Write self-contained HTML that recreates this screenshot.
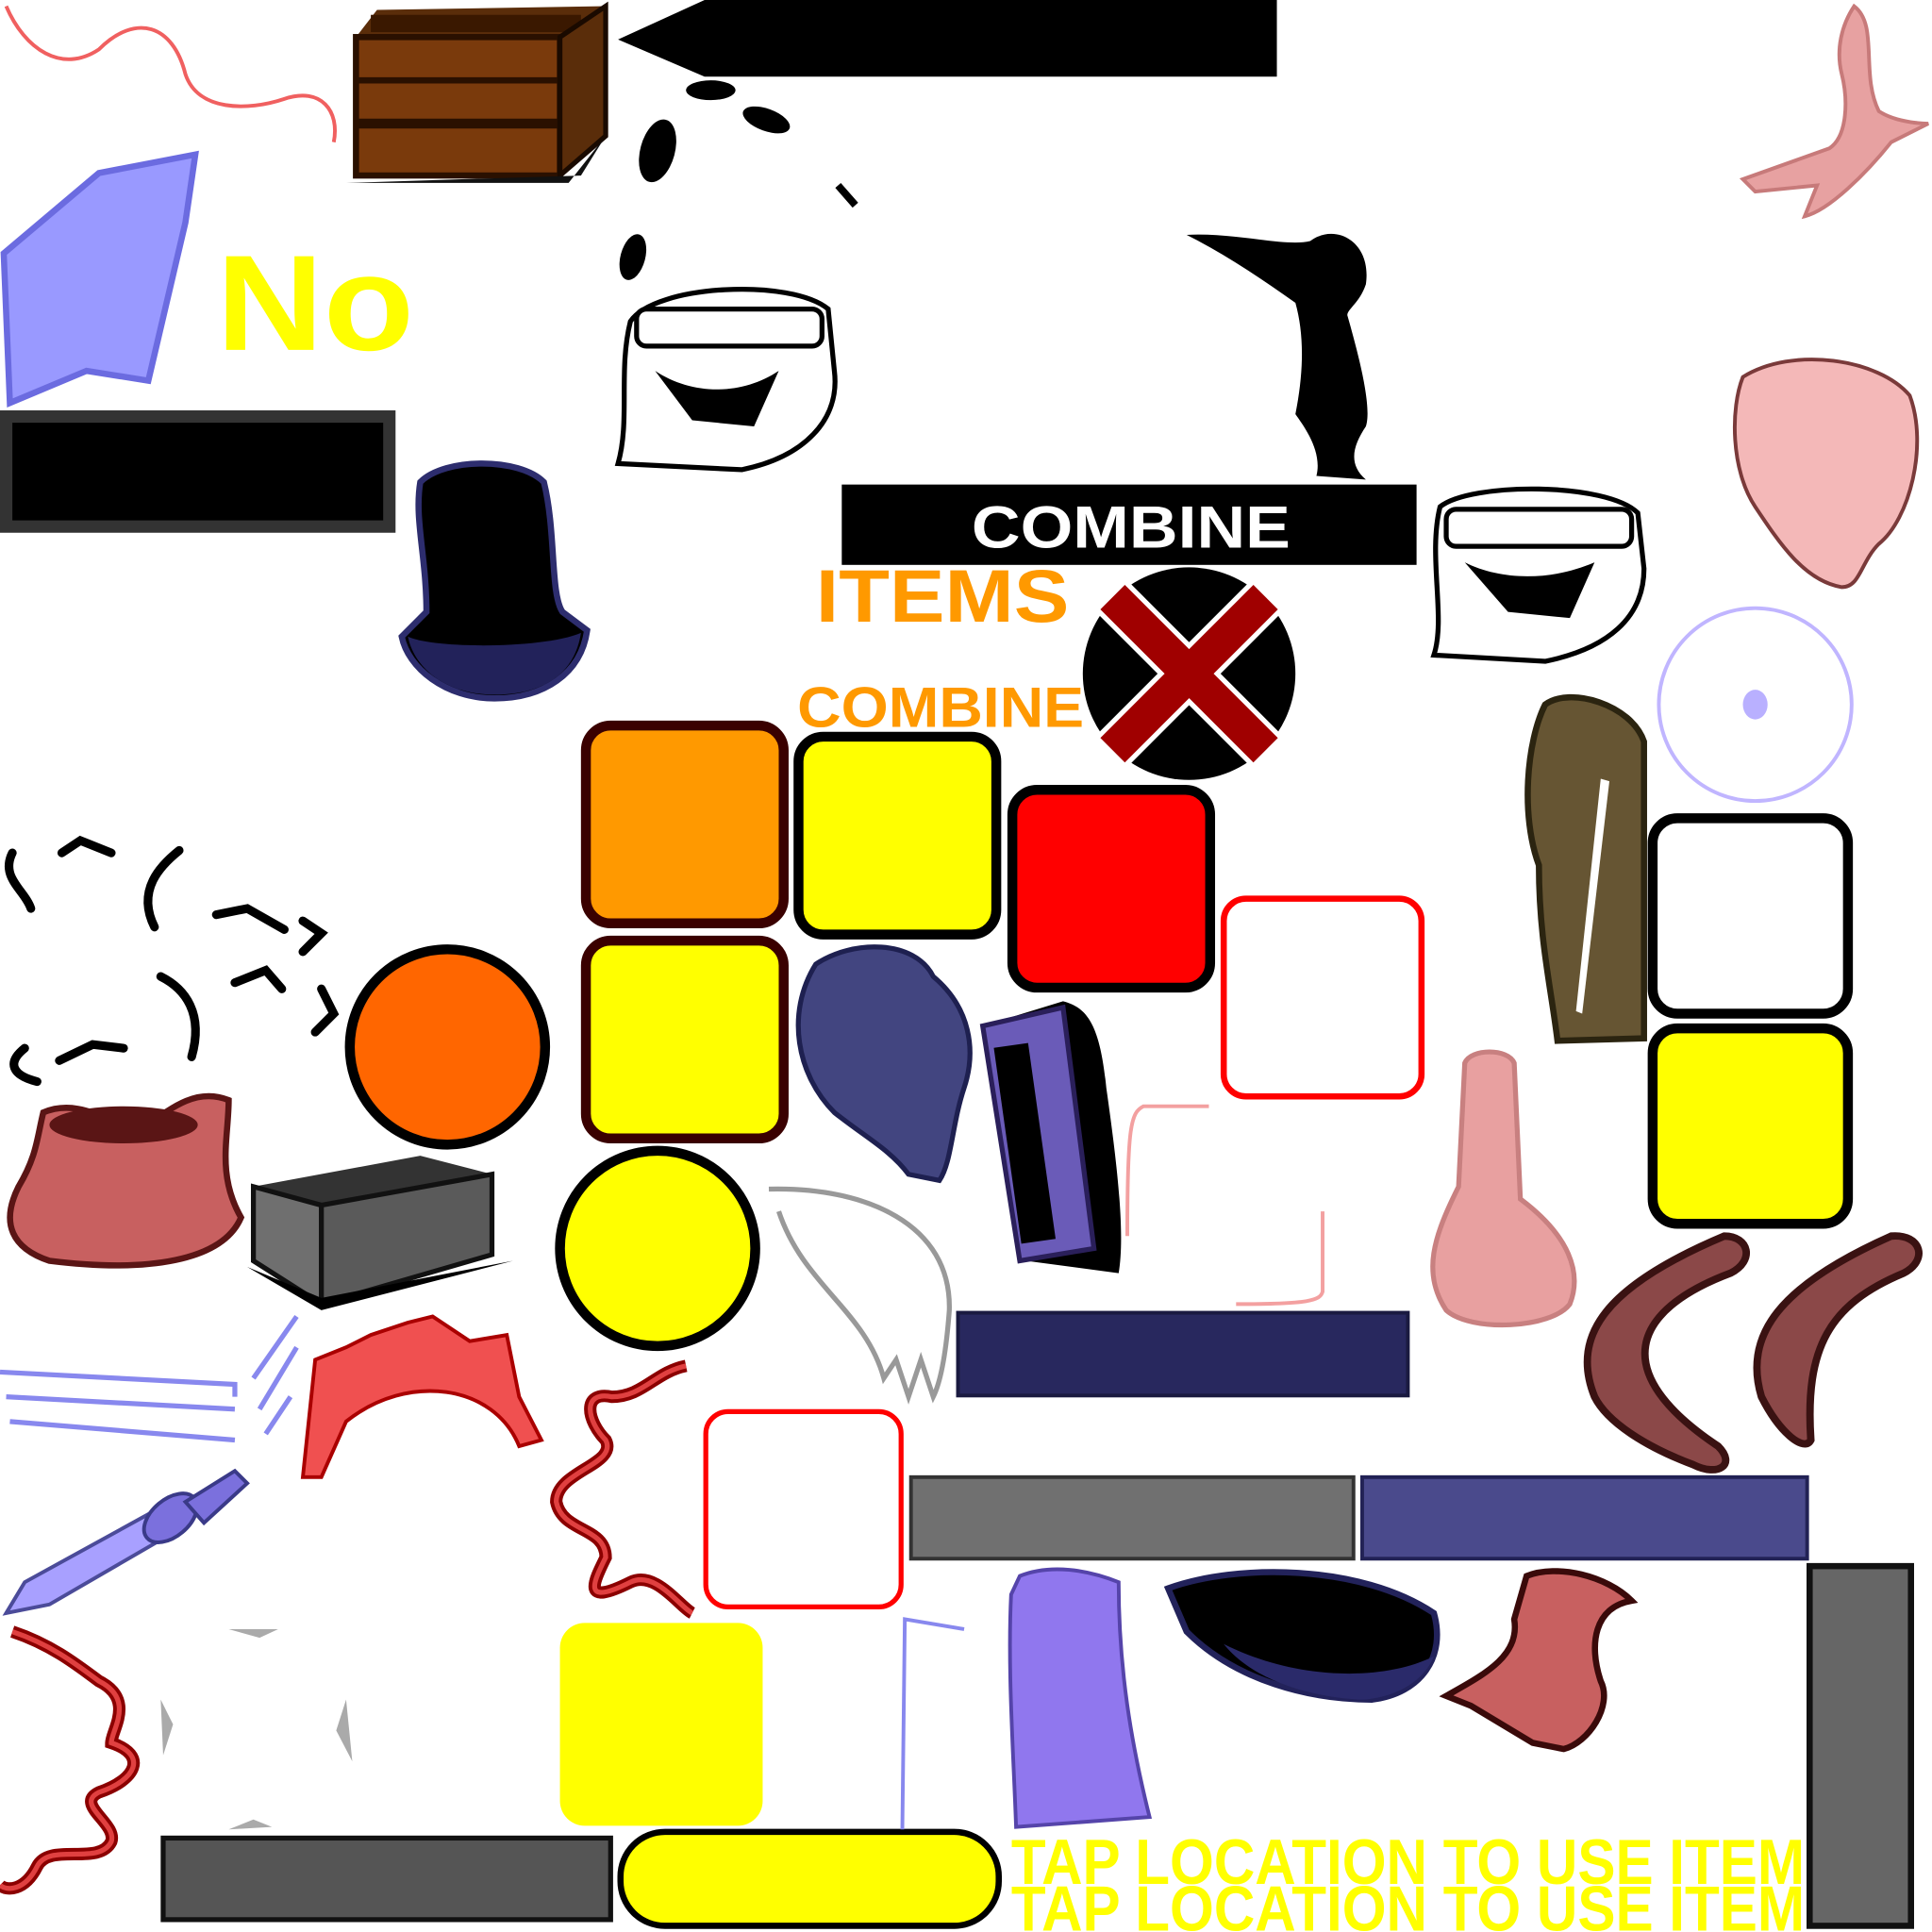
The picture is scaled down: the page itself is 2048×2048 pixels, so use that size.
<!DOCTYPE html>
<html><head><meta charset="utf-8"><style>html,body{margin:0;padding:0;background:#fff;width:2048px;height:2048px;overflow:hidden}svg{display:block}</style></head>
<body>
<svg width="2048" height="2048" viewBox="0 0 1563 1563" xmlns="http://www.w3.org/2000/svg" font-family="Liberation Sans, sans-serif">
<path d="M5,5 C20,40 50,60 80,40 C110,10 140,20 150,60 C160,90 200,90 230,80 C260,70 275,90 270,115" fill="none" stroke="#f06060" stroke-width="3"/>
<polygon points="288,30 305,8 490,5 470,30" fill="#5a2d0a"/>
<rect x="288" y="30" width="165" height="112" fill="#7a3a0c" stroke="#2a1000" stroke-width="5"/>
<rect x="300" y="12" width="170" height="14" fill="#3a1800"/>
<line x1="290" y1="65" x2="452" y2="65" stroke="#2a1000" stroke-width="5"/>
<line x1="290" y1="100" x2="452" y2="100" stroke="#2a1000" stroke-width="8"/>
<polygon points="453,30 490,5 490,110 453,142" fill="#5a2d0a" stroke="#1a0a00" stroke-width="4"/>
<polygon points="280,148 460,148 490,110 470,142" fill="#111"/>
<polygon points="500,32 570,0 1033,0 1033,62 570,62" fill="#000"/>
<ellipse cx="575" cy="73" rx="20" ry="8" fill="#000"/>
<ellipse cx="620" cy="97" rx="20" ry="9" fill="#000" transform="rotate(20 620 97)"/>
<ellipse cx="532" cy="122" rx="14" ry="26" fill="#000" transform="rotate(15 532 122)"/>
<line x1="678" y1="150" x2="692" y2="166" stroke="#000" stroke-width="6"/>
<ellipse cx="512" cy="208" rx="10" ry="19" fill="#000" transform="rotate(15 512 208)"/>
<path d="M3,205 L80,140 L158,125 L150,180 L120,308 L70,300 L8,326 Z" fill="#9999ff" stroke="#6b6be0" stroke-width="5"/>
<text x="175" y="283" font-size="110" font-weight="bold" fill="#ffff00" textLength="160" lengthAdjust="spacingAndGlyphs">No</text>
<rect x="5" y="337" width="310" height="89" fill="#000" stroke="#333" stroke-width="10"/>
<g fill="#fff" stroke="#000" stroke-width="4">
<path d="M510,260 C530,230 640,225 670,250 L675,300 C680,340 650,370 600,380 L500,375 C510,340 500,300 510,260 Z"/>
<path d="M1165,410 C1190,390 1300,390 1325,415 L1330,460 C1330,500 1300,525 1250,535 L1160,530 C1170,500 1155,450 1165,410 Z"/>
</g>
<rect x="515" y="250" width="150" height="30" rx="8" fill="#fff" stroke="#000" stroke-width="4"/>
<rect x="1170" y="412" width="150" height="30" rx="8" fill="#fff" stroke="#000" stroke-width="4"/>
<path d="M530,300 C560,320 600,320 630,300 L610,345 L560,340 Z" fill="#000"/>
<path d="M1185,455 C1215,470 1255,470 1290,455 L1270,500 L1220,495 Z" fill="#000"/>
<path d="M960,190 C1000,188 1040,200 1060,195 C1080,180 1110,195 1105,230 C1100,245 1090,250 1090,255 C1100,290 1110,330 1105,345 C1095,360 1090,375 1105,388 L1065,385 C1070,365 1055,345 1048,335 C1055,300 1055,270 1048,245 C1020,225 990,205 960,190 Z" fill="#000"/>
<path d="M1500,5 C1520,20 1505,60 1520,90 C1535,100 1560,100 1560,100 L1530,115 C1510,140 1480,170 1460,175 L1470,150 L1420,155 L1410,145 L1480,120 C1495,110 1495,80 1490,60 C1485,40 1490,20 1500,5 Z" fill="#e7a1a1" stroke="#c77a7a" stroke-width="3"/>
<path d="M1410,305 C1450,280 1520,290 1545,320 C1560,360 1545,420 1520,440 C1505,455 1505,475 1490,475 C1460,470 1440,440 1420,410 C1400,380 1400,330 1410,305 Z" fill="#f4b8b8" stroke="#7a3a3a" stroke-width="3"/>
<rect x="681" y="392" width="465" height="65" fill="#000"/>
<text x="786" y="443" font-size="48" font-weight="bold" fill="#fff" textLength="258" lengthAdjust="spacingAndGlyphs">COMBINE</text>
<text x="660" y="503" font-size="60" font-weight="bold" fill="#ff9900" textLength="205" lengthAdjust="spacingAndGlyphs">ITEMS</text>
<text x="645" y="588" font-size="46" font-weight="bold" fill="#ff9900" textLength="232" lengthAdjust="spacingAndGlyphs">COMBINE</text>
<circle cx="962" cy="545" r="86" fill="#000"/>
<g stroke="#fff" stroke-width="36" stroke-linecap="square"><line x1="910" y1="493" x2="1014" y2="597"/><line x1="1014" y1="493" x2="910" y2="597"/></g>
<g stroke="#a00000" stroke-width="28" stroke-linecap="square"><line x1="910" y1="493" x2="1014" y2="597"/><line x1="1014" y1="493" x2="910" y2="597"/></g>
<path d="M340,390 C360,370 420,370 440,390 C450,430 445,480 455,495 L475,510 C470,545 440,565 400,565 C360,565 330,540 325,515 L345,495 C345,450 335,420 340,390 Z" fill="#000" stroke="#2d2d6e" stroke-width="5"/>
<path d="M330,515 C350,525 440,525 470,512 C465,545 440,562 400,562 C360,562 335,540 330,515 Z" fill="#22225a"/>
<circle cx="1420" cy="570" r="78" fill="none" stroke="#c0b5ff" stroke-width="3"/>
<ellipse cx="1420" cy="570" rx="10" ry="12" fill="#b9b0ff"/>
<path d="M1250,570 C1270,555 1320,570 1330,600 L1330,840 L1260,842 C1255,800 1245,760 1245,700 C1230,660 1235,600 1250,570 Z" fill="#665533" stroke="#2b2410" stroke-width="5"/>
<path d="M1295,630 L1302,632 L1280,820 L1275,818 Z" fill="#fff"/>
<rect x="474" y="587" width="160" height="160" rx="20" fill="#ff9900" stroke="#3a0000" stroke-width="8"/>
<rect x="646" y="596" width="160" height="160" rx="20" fill="#ffff00" stroke="#000" stroke-width="8"/>
<rect x="819" y="639" width="160" height="160" rx="20" fill="#ff0000" stroke="#000" stroke-width="8"/>
<rect x="990" y="727" width="160" height="160" rx="18" fill="#fff" stroke="#ff0000" stroke-width="5"/>
<rect x="474" y="761" width="160" height="160" rx="20" fill="#ffff00" stroke="#3a0000" stroke-width="8"/>
<rect x="1337" y="662" width="158" height="158" rx="20" fill="#fff" stroke="#000" stroke-width="8"/>
<rect x="1337" y="832" width="158" height="158" rx="20" fill="#ffff00" stroke="#000" stroke-width="8"/>
<rect x="571" y="1142" width="158" height="158" rx="18" fill="#fff" stroke="#ff0000" stroke-width="4"/>
<rect x="453" y="1313" width="164" height="164" rx="20" fill="#ffff00"/>
<circle cx="362" cy="847" r="79" fill="#ff6600" stroke="#000" stroke-width="8"/>
<circle cx="532" cy="1010" r="79" fill="#ffff00" stroke="#000" stroke-width="8"/>
<path d="M660,780 C690,760 740,760 755,790 C785,815 790,850 780,880 C770,910 770,940 760,955 L735,950 C720,930 700,920 675,900 C645,870 635,820 660,780 Z" fill="#424580" stroke="#1e2050" stroke-width="4"/>
<path d="M795,830 L860,810 C880,815 890,830 895,880 C905,950 910,1000 905,1030 L830,1020 Z" fill="#000"/>
<path d="M795,830 L860,815 L885,1010 L825,1020 Z" fill="#6a5bb8" stroke="#2a1f5a" stroke-width="4"/>
<rect x="815" y="845" width="28" height="160" fill="#000" transform="rotate(-8 829 925)"/>
<path d="M978,895 L925,895 C915,900 912,910 912,1000" fill="none" stroke="#f3a0a0" stroke-width="3"/>
<path d="M1070,980 L1070,1045 C1068,1052 1060,1055 1000,1055" fill="none" stroke="#f3a0a0" stroke-width="3"/>
<path d="M1185,860 C1190,848 1220,848 1225,860 L1230,970 C1270,1000 1280,1030 1270,1055 C1255,1075 1190,1078 1170,1060 C1150,1030 1160,1000 1180,960 Z" fill="#e8a0a0" stroke="#c88080" stroke-width="4"/>
<path d="M1290,1130 C1270,1080 1300,1040 1395,1000 C1415,1000 1420,1020 1400,1030 C1320,1060 1300,1110 1390,1170 C1405,1185 1390,1195 1370,1185 C1330,1170 1300,1150 1290,1130 Z" fill="#8b4848" stroke="#3a1212" stroke-width="6"/>
<path d="M1425,1130 C1410,1080 1440,1040 1530,1000 C1555,998 1560,1020 1540,1030 C1480,1055 1460,1090 1465,1165 C1460,1175 1440,1160 1425,1130 Z" fill="#8b4848" stroke="#3a1212" stroke-width="6"/>
<g fill="none" stroke="#000" stroke-width="7" stroke-linecap="round">
<path d="M10,690 C0,710 20,720 25,735"/><path d="M50,690 L65,680 L90,690"/><path d="M145,688 C130,700 110,720 125,750"/><path d="M175,740 L200,735 L230,752"/><path d="M245,745 L260,755 L245,770"/><path d="M130,790 C150,800 165,820 155,855"/><path d="M190,795 L215,785 L228,800"/><path d="M260,800 L270,820 L255,835"/><path d="M20,848 C5,860 10,870 30,875"/><path d="M48,858 L75,845 L100,848"/>
</g>
<path d="M35,900 C70,885 100,920 120,910 C140,895 160,880 185,890 C185,920 175,950 195,985 C180,1020 120,1030 40,1020 C10,1010 0,990 15,960 C30,935 30,920 35,900 Z" fill="#c86060" stroke="#5a1515" stroke-width="5"/>
<ellipse cx="100" cy="910" rx="60" ry="15" fill="#5a1515"/>
<polygon points="205,960 340,935 398,950 260,975" fill="#333"/>
<polygon points="205,960 260,975 260,1055 205,1020" fill="#6f6f6f" stroke="#111" stroke-width="4"/>
<polygon points="260,975 398,950 398,1015 260,1055" fill="#5a5a5a" stroke="#111" stroke-width="4"/>
<polygon points="200,1025 260,1060 415,1020 260,1050" fill="#000"/>
<path d="M622,962 C700,960 770,990 768,1060 C765,1100 760,1120 755,1130 L745,1100 L735,1130 L725,1100 L715,1115 C700,1060 650,1040 630,980" fill="none" stroke="#999" stroke-width="4"/>
<rect x="775" y="1062" width="364" height="67" fill="#28285e" stroke="#1a1a40" stroke-width="3"/>
<rect x="737" y="1195" width="358" height="66" fill="#707070" stroke="#333" stroke-width="3"/>
<rect x="1102" y="1195" width="360" height="66" fill="#4a4a8c" stroke="#222255" stroke-width="3"/>
<rect x="132" y="1487" width="362" height="66" fill="#555" stroke="#111" stroke-width="4"/>
<rect x="502" y="1482" width="306" height="76" rx="36" fill="#ffff00" stroke="#000" stroke-width="5"/>
<rect x="1464" y="1267" width="82" height="291" fill="#666" stroke="#111" stroke-width="5"/>
<g stroke="#8888ee" stroke-width="4" fill="none">
<path d="M0,1110 L190,1120 L190,1130"/><path d="M5,1130 L190,1140"/><path d="M8,1150 L190,1165"/>
<path d="M205,1115 L240,1065"/><path d="M210,1140 L240,1090"/><path d="M215,1160 L235,1130"/>
</g>
<path d="M5,1305 L20,1280 L120,1225 L140,1240 L40,1298 Z" fill="#a8a0ff" stroke="#4b4b99" stroke-width="3"/>
<ellipse cx="138" cy="1228" rx="25" ry="15" fill="#7b70dd" stroke="#3a3a88" stroke-width="3" transform="rotate(-40 138 1228)"/>
<path d="M150,1215 L190,1190 L200,1200 L165,1232 Z" fill="#7b70dd" stroke="#3a3a88" stroke-width="3"/>
<path d="M245,1195 L255,1100 L280,1090 L300,1080 L330,1070 L350,1065 L380,1085 L410,1080 L420,1130 L438,1165 L420,1170 C400,1120 330,1110 280,1150 L260,1195 Z" fill="#f05050" stroke="#a00" stroke-width="3"/>
<path d="M555,1105 C530,1110 520,1130 495,1130 C470,1125 475,1150 490,1165 C500,1185 450,1190 450,1215 C455,1240 490,1235 490,1260 C480,1280 470,1300 510,1280 C530,1270 550,1300 560,1305" fill="none" stroke="#8b0000" stroke-width="10"/>
<path d="M555,1105 C530,1110 520,1130 495,1130 C470,1125 475,1150 490,1165 C500,1185 450,1190 450,1215 C455,1240 490,1235 490,1260 C480,1280 470,1300 510,1280 C530,1270 550,1300 560,1305" fill="none" stroke="#e04040" stroke-width="4"/>
<path d="M10,1320 C40,1330 60,1345 80,1360 C110,1375 90,1400 90,1410 C120,1420 110,1440 80,1450 C60,1460 95,1475 90,1490 C80,1510 40,1490 30,1510 C20,1530 5,1530 0,1525" fill="none" stroke="#8b0000" stroke-width="10"/>
<path d="M10,1320 C40,1330 60,1345 80,1360 C110,1375 90,1400 90,1410 C120,1420 110,1440 80,1450 C60,1460 95,1475 90,1490 C80,1510 40,1490 30,1510 C20,1530 5,1530 0,1525" fill="none" stroke="#e04040" stroke-width="4"/>
<path d="M185,1318 L225,1318 L210,1325 Z" fill="#aaa"/><path d="M130,1375 L140,1395 L132,1420 Z" fill="#aaa"/><path d="M280,1375 L285,1425 L272,1400 Z" fill="#aaa"/><path d="M185,1480 L220,1478 L205,1472 Z" fill="#aaa"/>
<path d="M780,1318 L732,1310 L730,1480" fill="none" stroke="#8888ee" stroke-width="3"/>
<path d="M825,1275 C850,1265 880,1270 905,1280 C905,1350 915,1410 930,1470 L822,1478 C820,1420 815,1350 818,1290 Z" fill="#9077ee" stroke="#5544aa" stroke-width="3"/>
<path d="M945,1285 C1000,1265 1100,1265 1160,1305 C1170,1340 1150,1370 1110,1375 C1060,1375 1000,1360 960,1320 Z" fill="#000" stroke="#22225a" stroke-width="5"/>
<path d="M990,1330 C1050,1360 1120,1360 1160,1340 C1150,1365 1120,1375 1100,1375 C1050,1372 1010,1355 990,1330 Z" fill="#2a2a6a"/>
<path d="M1235,1275 C1260,1265 1300,1275 1320,1295 C1290,1300 1285,1330 1295,1360 C1305,1380 1285,1410 1265,1415 L1240,1410 L1190,1380 L1170,1372 C1200,1355 1230,1340 1225,1310 Z" fill="#c86060" stroke="#3a0a0a" stroke-width="5"/>
<text x="818" y="1524" font-size="52" font-weight="bold" fill="#ffff00" textLength="642" lengthAdjust="spacingAndGlyphs">TAP LOCATION TO USE ITEM</text>
<text x="818" y="1562" font-size="52" font-weight="bold" fill="#ffff00" textLength="642" lengthAdjust="spacingAndGlyphs">TAP LOCATION TO USE ITEM</text>
</svg>
</body></html>
